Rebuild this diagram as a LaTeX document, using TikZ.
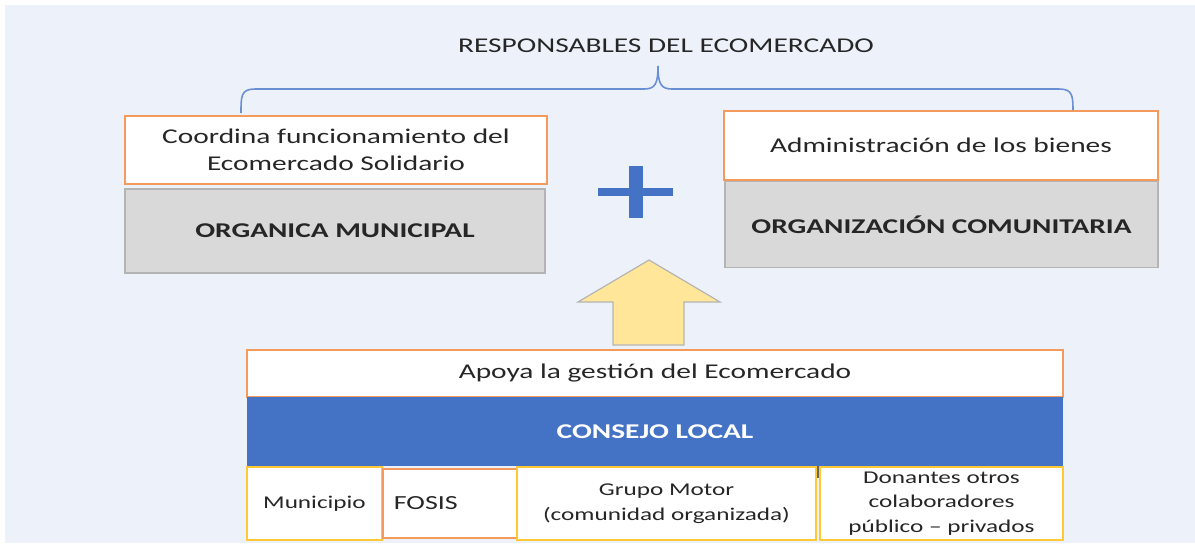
\documentclass[tikz,border=0pt]{standalone}
\usepackage{fontspec}
\setmainfont{Carlito}[FakeStretch=1.4]
\definecolor{bgc}{HTML}{EDF2FA}
\definecolor{orangeb}{HTML}{F39A5C}
\definecolor{grayf}{HTML}{D9D9D9}
\definecolor{grayb}{HTML}{B4B4B4}
\definecolor{blueband}{HTML}{4472C4}
\definecolor{bracec}{HTML}{6A8FD4}
\definecolor{yellowb}{HTML}{FFC935}
\definecolor{arrowf}{HTML}{FFE699}
\definecolor{txt}{HTML}{262626}
\begin{document}
\begin{tikzpicture}[x=0.75pt,y=-0.75pt,
  bigfont/.style={font=\fontsize{15.75}{20.25}\selectfont},
  smallfont/.style={font=\fontsize{13.5}{18.4}\selectfont},
  basebox/.style={rectangle,inner sep=0pt,outer sep=0pt,align=center,text=txt},
  topbox/.style={basebox,fill=white,draw=orangeb,line width=1.1pt,bigfont},
  graybox/.style={basebox,fill=grayf,draw=grayb,line width=1pt,bigfont,font=\fontsize{15.75}{20.25}\selectfont\bfseries},
  cellbox/.style={basebox,fill=white,draw=yellowb,line width=1.1pt,smallfont},
]
\useasboundingbox (0,0) rectangle (1195,543);
\fill[white] (0,0) rectangle (1195,543);
\fill[bgc] (5,5) rectangle (1195,543);

% title
\node[basebox,bigfont] (title) at (666,46) {RESPONSABLES DEL ECOMERCADO};

% brace
\draw[bracec,line width=1.2pt]
  (241,113) .. controls (241,96) and (241,89) .. (255,89) -- (644,89)
  .. controls (655,89) and (658,84) .. (658,66)
  .. controls (658,84) and (661,89) .. (672,89) -- (1059,89)
  .. controls (1073,89) and (1073,96) .. (1073,113);

% left boxes
\node[topbox,minimum width=316.5pt,minimum height=51pt] (coord) at (336,150)
  {Coordina funcionamiento del\\Ecomercado Solidario};
\node[graybox,minimum width=315pt,minimum height=63pt] (orgmun) at (335,231)
  {ORGANICA MUNICIPAL};

% right boxes
\node[topbox,minimum width=325.5pt,minimum height=51.75pt] (admin) at (941,145.5)
  {Administración de los bienes};
\node[graybox,minimum width=324.75pt,minimum height=64.5pt] (orgcom) at (941.5,224.5)
  {ORGANIZACIÓN COMUNITARIA};

% plus sign
\fill[blueband] (598,188) rectangle (673,196);
\fill[blueband] (629,166) rectangle (643,218);

% up arrow
\draw[fill=arrowf,draw=grayb,line width=0.9pt]
  (613,345) -- (613,302) -- (578,302) -- (649,260) -- (720,302) -- (684,302) -- (684,345) -- cycle;

% bottom block
\node[topbox,minimum width=612pt,minimum height=35.25pt] (apoya) at (655,373.5)
  {Apoya la gestión del Ecomercado};
\node[basebox,fill=blueband,minimum width=612pt,minimum height=51.75pt,text=white,
  font=\fontsize{15.75}{20.25}\selectfont\bfseries] (consejo) at (655,431.5)
  {CONSEJO LOCAL};

\node[cellbox,minimum width=101.25pt,minimum height=54.75pt] (muni) at (314.5,503.5)
  {Municipio};
\node[cellbox,draw=orangeb,minimum width=101.25pt,minimum height=51.75pt,
  text width=85pt,align=left] (fosis) at (450.5,503.5)
  {\fontsize{15}{18}\selectfont FOSIS};
\node[cellbox,minimum width=224.25pt,minimum height=54.75pt] (grupo) at (666.5,503.5)
  {Grupo Motor\\(comunidad organizada)};
\node[cellbox,minimum width=182.25pt,minimum height=54.75pt] (donantes) at (941.5,503.5)
  {Donantes otros\\colaboradores\\público – privados};
\draw[txt!70,line width=1pt] (818,466) -- (818,478);
\end{tikzpicture}
\end{document}
